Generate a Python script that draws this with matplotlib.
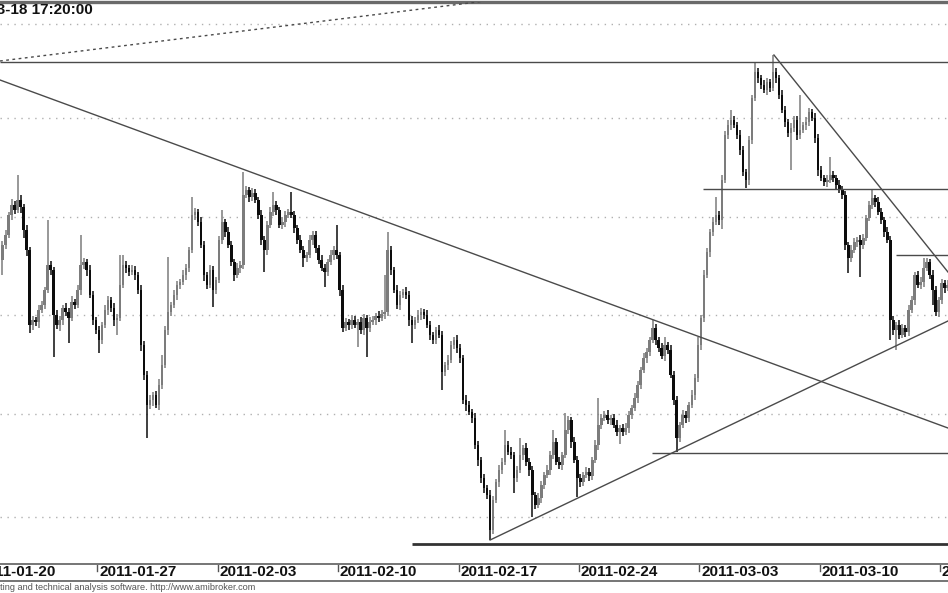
import matplotlib
matplotlib.use("Agg")
import matplotlib.pyplot as plt
import matplotlib.transforms as mtransforms
from matplotlib.lines import Line2D
import numpy as np
import pandas as pd

# ---------------- data (hourly bars, 8 per session) ----------------
first_open = 2740
closes = [
    2755, 2765, 2785, 2795, 2790, 2800, 2793, 2770,
    2750, 2675, 2680, 2678, 2690, 2695, 2710, 2735,
    2730, 2685, 2675, 2680, 2692, 2688, 2682, 2698,
    2695, 2710, 2735, 2738, 2730, 2705, 2680, 2670,
    2660, 2675, 2690, 2700, 2692, 2680, 2682, 2715,
    2735, 2732, 2728, 2730, 2725, 2710, 2655, 2625,
    2595, 2600, 2605, 2595, 2615, 2635, 2670, 2688,
    2695, 2705, 2715, 2718, 2725, 2732, 2750, 2785,
    2788, 2778, 2755, 2725, 2715, 2730, 2710, 2720,
    2760, 2778, 2768, 2755, 2738, 2725, 2732, 2735,
    2805, 2810, 2803, 2807, 2800, 2785, 2760, 2750,
    2775, 2788, 2795, 2790, 2775, 2778, 2785, 2788,
    2785, 2772, 2760, 2750, 2742, 2745, 2760, 2765,
    2752, 2740, 2732, 2728, 2738, 2745, 2750, 2745,
    2710, 2672, 2678, 2675, 2680, 2675, 2678, 2670,
    2682, 2672, 2678, 2680, 2684, 2682, 2686, 2688,
    2750, 2730, 2710, 2695, 2705, 2708, 2705, 2680,
    2675, 2680, 2685, 2688, 2685, 2675, 2665, 2660,
    2670, 2665, 2628, 2635, 2640, 2655, 2660, 2652,
    2642, 2600, 2595, 2588, 2582, 2555, 2540, 2522,
    2512, 2505, 2470, 2500, 2518, 2530, 2538, 2555,
    2548, 2545, 2522, 2530, 2545, 2552, 2538, 2530,
    2505, 2495, 2502, 2515, 2525, 2530, 2545, 2558,
    2538, 2535, 2545, 2570, 2580, 2558, 2540, 2522,
    2518, 2525, 2528, 2524, 2540, 2555, 2575, 2582,
    2585, 2580, 2582, 2575, 2568, 2572, 2568, 2572,
    2585, 2592, 2602, 2615, 2630, 2642, 2648, 2660,
    2672, 2660, 2652, 2644, 2655, 2650, 2625, 2600,
    2562, 2575, 2585, 2582, 2595, 2605, 2622, 2655,
    2682, 2725, 2748, 2768, 2778, 2785, 2780, 2820,
    2865, 2875, 2880, 2875, 2865, 2850, 2828, 2820,
    2860, 2902, 2928, 2922, 2915, 2910, 2918, 2912,
    2928, 2922, 2905, 2890, 2878, 2867, 2872, 2880,
    2865, 2870, 2875, 2878, 2888, 2882, 2862, 2830,
    2822, 2818, 2820, 2825, 2822, 2815, 2810, 2805,
    2755, 2742, 2750, 2758, 2760, 2755, 2762, 2782,
    2795, 2802, 2798, 2788, 2780, 2768, 2760, 2680,
    2670, 2675, 2665, 2672, 2668, 2690, 2700, 2725,
    2715, 2718, 2732, 2738, 2725, 2710, 2688, 2700,
    2717, 2712, 2715,
]
up_wick = [
    4, 5, 3, 6, 4, 25, 5, 3,
    5, 3, 4, 3, 5, 4, 3, 45,
    4, 3, 5, 4, 3, 5, 4, 6,
    3, 5, 30, 4, 3, 5, 4, 3,
    4, 3, 5, 4, 3, 5, 4, 30,
    10, 4, 3, 5, 4, 3, 5, 4,
    4, 5, 3, 4, 6, 10, 4, 55,
    3, 5, 4, 3, 5, 4, 3, 18,
    4, 3, 5, 4, 3, 5, 4, 3,
    4, 12, 3, 5, 4, 3, 5, 4,
    23, 4, 3, 5, 4, 3, 5, 4,
    4, 5, 13, 4, 3, 5, 4, 3,
    20, 4, 3, 5, 4, 3, 5, 4,
    4, 3, 5, 4, 3, 5, 4, 25,
    3, 5, 4, 3, 5, 4, 3, 5,
    4, 3, 5, 4, 3, 5, 4, 37,
    18, 4, 3, 5, 4, 3, 5, 4,
    4, 3, 5, 4, 3, 5, 4, 3,
    3, 5, 4, 3, 5, 4, 3, 5,
    4, 3, 5, 4, 3, 5, 4, 3,
    4, 3, 5, 4, 3, 5, 4, 15,
    4, 5, 3, 4, 17, 3, 5, 4,
    4, 3, 5, 4, 3, 5, 4, 12,
    4, 5, 3, 17, 4, 3, 5, 4,
    4, 3, 5, 4, 3, 5, 27, 4,
    4, 5, 3, 4, 5, 3, 4, 5,
    4, 3, 5, 4, 3, 5, 4, 3,
    8, 4, 3, 5, 8, 3, 5, 4,
    4, 3, 5, 4, 3, 5, 4, 8,
    3, 5, 4, 3, 5, 18, 4, 5,
    4, 5, 10, 4, 3, 5, 4, 3,
    4, 3, 10, 4, 3, 5, 4, 3,
    17, 4, 3, 5, 4, 3, 5, 4,
    4, 35, 3, 5, 4, 3, 5, 4,
    4, 3, 5, 18, 4, 3, 5, 4,
    4, 3, 5, 4, 3, 5, 4, 3,
    4, 8, 3, 5, 4, 3, 5, 4,
    4, 3, 5, 4, 3, 5, 4, 3,
    4, 5, 10, 4, 3, 5, 4, 3,
    4, 3, 5,
]
dn_wick = [
    15, 4, 3, 5, 4, 3, 6, 8,
    6, 8, 5, 4, 6, 3, 4, 3,
    5, 42, 4, 6, 5, 4, 25, 3,
    4, 3, 5, 4, 6, 3, 5, 4,
    13, 4, 3, 5, 4, 6, 15, 3,
    3, 5, 4, 3, 5, 4, 6, 5,
    33, 4, 6, 3, 5, 4, 3, 5,
    4, 3, 5, 4, 3, 5, 4, 3,
    5, 4, 3, 6, 4, 3, 17, 4,
    3, 4, 5, 3, 4, 6, 3, 5,
    4, 3, 5, 4, 3, 4, 5, 22,
    5, 3, 4, 5, 3, 4, 5, 3,
    3, 5, 4, 3, 9, 4, 3, 5,
    5, 4, 3, 15, 4, 3, 5, 4,
    6, 4, 3, 5, 4, 3, 22, 4,
    5, 29, 4, 3, 5, 4, 3, 5,
    4, 5, 3, 4, 5, 3, 4, 6,
    18, 4, 3, 5, 4, 3, 5, 4,
    4, 3, 18, 4, 5, 3, 4, 5,
    5, 4, 6, 3, 5, 4, 6, 5,
    5, 4, 10, 4, 3, 5, 4, 3,
    3, 4, 15, 4, 3, 5, 4, 6,
    22, 4, 3, 5, 4, 3, 5, 4,
    3, 4, 5, 3, 4, 6, 3, 19,
    5, 4, 3, 5, 4, 3, 5, 4,
    3, 4, 5, 3, 4, 12, 4, 3,
    5, 4, 3, 5, 4, 3, 5, 4,
    3, 5, 4, 3, 5, 4, 3, 5,
    14, 4, 3, 5, 4, 3, 5, 4,
    5, 4, 3, 5, 4, 3, 5, 9,
    3, 4, 5, 3, 4, 5, 4, 8,
    5, 4, 3, 5, 4, 3, 5, 4,
    3, 5, 4, 3, 5, 4, 37, 4,
    5, 4, 3, 5, 4, 3, 5, 6,
    3, 4, 5, 3, 4, 5, 3, 4,
    5, 15, 4, 3, 5, 32, 4, 3,
    3, 4, 5, 3, 4, 5, 3, 20,
    5, 20, 4, 3, 5, 4, 3, 5,
    3, 4, 5, 3, 4, 15, 4, 5,
    4, 5, 3,
]

# weekly (Thursday) axis labels
tick_labels = ["2011-01-20", "2011-01-27", "2011-02-03", "2011-02-10", "2011-02-17",
               "2011-02-24", "2011-03-03", "2011-03-10", "2011-03-17"]
title_text = "2011-03-18 17:20:00"
footer_text = "AmiBroker - charting and technical analysis software. http://www.amibroker.com"

# price grid levels and drawn study lines
grid_levels = [2976, 2882, 2783, 2685, 2586, 2483]
hline_levels = [2938, 2811, 2745, 2547, 2456]
hline_start_bar = [-0.83, 232.7, 296.9, 215.8, 136.0]
trend_lines = [  # (bar0, price0, bar1, price1)
    (-0.83, 2920, 314.1, 2572),
    (162.0, 2460, 314.1, 2679),
    (256.3, 2945, 314.1, 2728),
]
dotted_line = (-0.83, 2939, 168.6, 3002)

# ---------------- calendar ----------------
bars_per_day = 8
sessions = pd.bdate_range("2011-01-20", "2011-03-18")
data_offset = bars_per_day  # data starts with the 2011-01-21 session
session_str = [d.strftime("%Y-%m-%d") for d in sessions]
tick_pos = [session_str.index(lbl) * bars_per_day - data_offset - 0.5 for lbl in tick_labels]

closes = np.array(closes, dtype=float)
opens = np.concatenate([[first_open], closes[:-1]])
top = np.maximum(opens, closes)
bot = np.minimum(opens, closes)
highs = top + np.array(up_wick)
lows = bot - np.array(dn_wick)
x = np.arange(len(closes))
up = closes >= opens

# ---------------- figure ----------------
W, H = 948, 593
fig = plt.figure(figsize=(W / 100, H / 100), dpi=100)
ax_bottom_px, ax_top_px = 564, 2
ax = fig.add_axes([0, (H - ax_bottom_px) / H, 1, (ax_bottom_px - ax_top_px) / H])
ax.set_xlim(-0.83, 314.12)
ax.set_ylim(2436, 2998)

for s in ["left", "right"]:
    ax.spines[s].set_visible(False)
ax.spines["top"].set_color("#6a6a6a")
ax.spines["top"].set_linewidth(2.4)
ax.spines["bottom"].set_color("#6a6a6a")
ax.spines["bottom"].set_linewidth(1.3)
ax.set_xticks([])
ax.set_yticks([])

for g in grid_levels:
    ax.axhline(g, color="#b0b0b0", lw=1.0, ls=(0, (1, 4)), zorder=1)

up_col, dn_col = "#7c7c7c", "#0c0c0c"
colors = np.where(up, up_col, dn_col)
ax.vlines(x, lows, highs, colors=colors, lw=1.1, zorder=3)
heights = np.maximum(top - bot, 1.5)
ax.bar(x, heights, bottom=bot, width=0.85, color=colors, edgecolor="none", zorder=4)

# study lines
for lvl, st in zip(hline_levels, hline_start_bar):
    lw = 2.0 if lvl == 2456 else 1.0
    col = "#333333" if lvl == 2456 else "#4a4a4a"
    ax.plot([st, 314.12], [lvl, lvl], color=col, lw=lw, zorder=5, solid_capstyle="butt")
for (b0, p0, b1, p1) in trend_lines:
    ax.plot([b0, b1], [p0, p1], color="#4a4a4a", lw=1.0, zorder=5)
b0, p0, b1, p1 = dotted_line
ax.plot([b0, b1], [p0, p1], color="#4a4a4a", lw=1.0, ls=(0, (2, 2.5)), zorder=5)

# date strip below the chart
trans = mtransforms.blended_transform_factory(ax.transData, fig.transFigure)
def fy(px):
    return (H - px) / H
for pos, lbl in zip(tick_pos, tick_labels):
    ax.add_line(Line2D([pos, pos], [fy(565), fy(571)], transform=trans, color="#555555",
                       lw=1.0, clip_on=False))
    ax.text(pos + 0.6, fy(572.5), lbl, transform=trans, ha="left", va="center",
            fontsize=11, fontweight="bold", family="Liberation Sans", color="#111111",
            clip_on=False)
fig.add_artist(Line2D([0, 1], [fy(581), fy(581)], transform=fig.transFigure,
                      color="#6a6a6a", lw=1.3))

fig.text(93 / W, fy(10.5), title_text, ha="right", va="center", fontsize=11,
         fontweight="bold", family="Liberation Sans", color="#111111")
fig.text(255 / W, fy(587.5), footer_text, ha="right", va="center", fontsize=6.6,
         family="Liberation Sans", color="#555555")

fig.savefig("out.png", dpi=100, facecolor="white")
